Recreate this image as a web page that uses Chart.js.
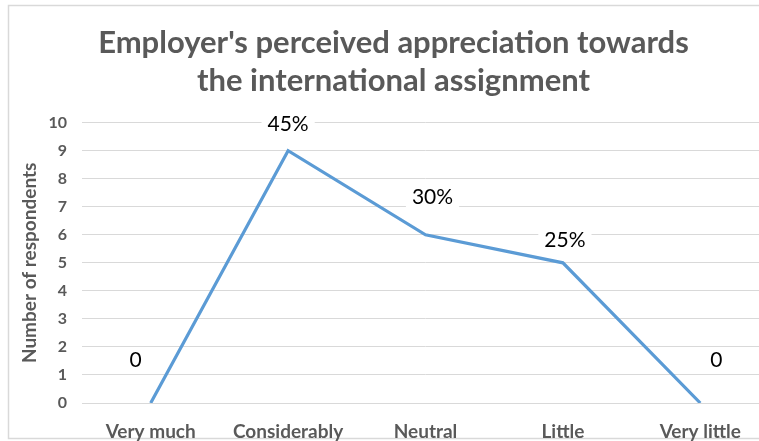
<!DOCTYPE html>
<html>
<head>
<meta charset="utf-8">
<script src="https://cdn.jsdelivr.net/npm/chart.js@4.4.1/dist/chart.umd.min.js"></script>
<style>
  html, body { margin: 0; padding: 0; background: #fff; overflow: hidden; }
  #wrap { position: absolute; left: 0; top: 0; width: 800px; height: 441px; }
</style>
</head>
<body>
<div id="wrap"><canvas id="mycanvas"></canvas></div>
<script>
// chart data
var categories = ['Very much', 'Considerably', 'Neutral', 'Little', 'Very little'];
var respondents = [0, 9, 6, 5, 0];
var pointLabels = ['0', '45%', '30%', '25%', '0'];
var yTicks = [0, 1, 2, 3, 4, 5, 6, 7, 8, 9, 10];

var grey = '#595959';

// label offsets relative to each point (manually placed like in the original)
var labelShift = [[-15, -43], [0, -26], [7, -38], [2, -23], [16, -43]];

var frame = {
	id: 'frame',
	beforeDraw: function(chart) {
		var ctx = chart.ctx;
		ctx.save();
		ctx.fillStyle = '#fff';
		ctx.fillRect(0, 0, chart.width, chart.height);
		ctx.strokeStyle = '#d9d9d9';
		ctx.lineWidth = 1.5;
		ctx.strokeRect(8.5, 5.5, 776, 433);
		ctx.restore();
	}
};

var valueLabels = {
	id: 'valueLabels',
	afterDatasetsDraw: function(chart) {
		var ctx = chart.ctx;
		var meta = chart.getDatasetMeta(0);
		ctx.save();
		ctx.font = '21px Lato';
		ctx.textAlign = 'center';
		ctx.textBaseline = 'middle';
		meta.data.forEach(function(pt, i) {
			var x = pt.x + labelShift[i][0];
			var y = pt.y + labelShift[i][1];
			var w = ctx.measureText(pointLabels[i]).width;
			ctx.fillStyle = '#fff';
			ctx.fillRect(x - w / 2 - 6, y - 13, w + 12, 26);
			ctx.fillStyle = '#000';
			ctx.fillText(pointLabels[i], x, y);
		});
		ctx.restore();
	}
};

var ctx = document.getElementById('mycanvas');

var lineGraph = new Chart(ctx, {
	type: 'line',
	data: {
		labels: categories,
		datasets: [{
			label: 'Number of respondents',
			data: respondents,
			borderColor: '#5b9bd5',
			backgroundColor: '#5b9bd5',
			borderWidth: 3.2,
			pointRadius: 0,
			tension: 0,
			fill: false
		}]
	},
	options: {
		responsive: true,
		maintainAspectRatio: false,
		animation: false,
		layout: { padding: { left: 18, right: 31, top: 0, bottom: 0 } },
		plugins: {
			legend: { display: false },
			tooltip: { enabled: false },
			title: {
				display: true,
				text: ["Employer's perceived appreciation towards", 'the international assignment'],
				color: grey,
				font: { family: 'Lato', size: 31, weight: 'bold', lineHeight: 1.22 },
				padding: { top: 24, bottom: 23 }
			}
		},
		scales: {
			x: {
				offset: true,
				grid: { display: false, drawTicks: false },
				border: { display: true, color: '#d9d9d9' },
				ticks: {
					color: grey,
					padding: 17,
					font: { family: 'Lato', size: 19, weight: 'bold' }
				},
				afterFit: function(scale) { scale.height = 38; }
			},
			y: {
				min: 0,
				max: 10,
				afterBuildTicks: function(scale) {
					scale.ticks = yTicks.map(function(v) { return { value: v }; });
				},
				grid: { color: '#d9d9d9', drawTicks: false },
				border: { display: false },
				ticks: {
					color: grey,
					padding: 15,
					font: { family: 'Lato', size: 16, weight: 'bold' }
				},
				title: {
					display: true,
					text: 'Number of respondents',
					color: grey,
					padding: 0,
					font: { family: 'Lato', size: 19, weight: 'bold' }
				},
				afterFit: function(scale) { scale.width = 64; }
			}
		}
	},
	plugins: [frame, valueLabels]
});
</script>
</body>
</html>
